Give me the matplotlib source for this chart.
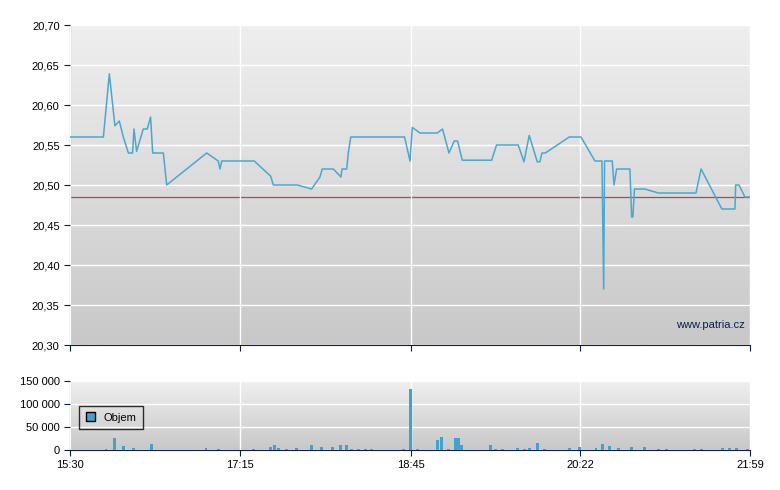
import numpy as np
import matplotlib
matplotlib.use("Agg")
import matplotlib.pyplot as plt
from matplotlib.patches import Rectangle

plt.rcParams['font.family'] = ['Liberation Sans', 'DejaVu Sans']

# time in minutes from 15:30 (axis positions), price
t = [0, 19.1, 22.5, 25.7, 28.2, 30.5, 33.4, 35.8, 36.6, 38.1, 41.9, 44.2, 46.1, 47.3, 53.4, 55.3,
     78.2, 84.8, 85.8, 86.8, 105.4, 114.8, 116.3, 130.1, 138.2, 143, 144.3, 150.6, 155, 155.6,
     158.3, 159.2, 160.6, 191.4, 194.5, 195.8, 200.2, 210.1, 213.1, 216.8, 219.8, 221.7, 224.4,
     241.2, 244, 256.4, 259.7, 262.7, 267.3, 268.8, 270, 271.9, 285.6, 292.3, 300.3, 304.3,
     305.3, 305.8, 310.2, 311.2, 312.7, 320.3, 321.3, 322, 322.9, 328.9, 336.5, 358.1, 361,
     372.9, 380.4, 380.8, 382.7, 386.1, 389]
price = [20.560, 20.560, 20.639, 20.574, 20.580, 20.560, 20.540, 20.540, 20.570, 20.542, 20.570,
         20.570, 20.585, 20.540, 20.540, 20.500, 20.540, 20.530, 20.520, 20.530, 20.530, 20.511,
         20.500, 20.500, 20.495, 20.510, 20.520, 20.520, 20.510, 20.520, 20.520, 20.540, 20.560,
         20.560, 20.530, 20.572, 20.565, 20.565, 20.570, 20.540, 20.555, 20.555, 20.531, 20.531,
         20.550, 20.550, 20.529, 20.562, 20.529, 20.529, 20.540, 20.540, 20.560, 20.560, 20.530,
         20.530, 20.370, 20.530, 20.530, 20.500, 20.520, 20.520, 20.460, 20.460, 20.495, 20.495,
         20.490, 20.490, 20.520, 20.470, 20.470, 20.500, 20.500, 20.485, 20.485]
ref_price = 20.485

vt = [20.6, 25.7, 30.8, 36.4, 46.7, 77.8, 85, 104.7, 114.9, 117, 119, 123.8, 129.7, 137.9, 144,
      150.1, 154.5, 158.3, 160.9, 165, 168.8, 172.4, 191, 194.6, 198.7, 210.2, 212.7, 216.6,
      220.4, 222.2, 224.2, 240.8, 243.4, 247.2, 256.2, 260, 262.6, 267.7, 271.5, 285.6, 291.4,
      300.9, 304.7, 308.5, 313.7, 321.3, 328.5, 336.7, 341.3, 357.1, 361, 373.2, 377.5, 381.4, 387.7]
vol = [2000, 26000, 9000, 4500, 13000, 4500, 2000, 2000, 6500, 11000, 4500, 2000, 4500, 11000,
       6500, 6500, 11000, 11000, 2000, 2000, 2000, 2000, 2000, 132000, 2000, 22000, 29000, 2000,
       27000, 27000, 11000, 11000, 2000, 2000, 4500, 2000, 4500, 15500, 2000, 4500, 6500, 4500,
       13000, 9000, 4500, 6500, 6500, 2000, 2000, 2000, 2000, 4500, 4500, 4500, 2000]

xticks = [0, 97, 195, 292, 389]
xlabels = ['15:30', '17:15', '18:45', '20:22', '21:59']

W, H = 780, 490
fig = plt.figure(figsize=(7.8, 4.9), dpi=100)
navy = '#0a1e50'
grad = np.linspace(0, 1, 256).reshape(-1, 1)
from matplotlib.colors import LinearSegmentedColormap
cmap = LinearSegmentedColormap.from_list('g', ['#c8c8c8', '#efefef'])

def setup(ax, ylim):
    ax.imshow(grad, aspect='auto', cmap=cmap, origin='lower',
              extent=[0, 389, ylim[0], ylim[1]], zorder=0)
    ax.set_xlim(0, 389)
    ax.set_ylim(*ylim)
    for s in ['top', 'right']:
        ax.spines[s].set_visible(False)
    for s in ['left', 'bottom']:
        ax.spines[s].set_color(navy)
    ax.tick_params(colors='black', labelsize=8, length=4, color=navy)
    ax.set_xticks(xticks)
    ax.grid(True, color='white', linewidth=1, zorder=1)
    ax.set_axisbelow(False)

ax1 = fig.add_axes([70/W, 1-345/H, 680/W, 320/H])
setup(ax1, (20.30, 20.70))
ax1.set_yticks(np.arange(20.30, 20.701, 0.05))
ax1.set_yticklabels([f"{v:.2f}".replace('.', ',') for v in np.arange(20.30, 20.701, 0.05)])
ax1.set_xticklabels([])
ax1.axhline(ref_price, color='#b04848', linewidth=0.9, zorder=2)
ax1.plot(t, price, color='#4aa8d0', linewidth=1.1, zorder=3)
ax1.text(386, 20.325, 'www.patria.cz', color=navy, fontsize=8, ha='right', va='center', zorder=4)

ax2 = fig.add_axes([70/W, 1-450/H, 680/W, 69/H])
setup(ax2, (0, 150000))
ax2.set_yticks([0, 50000, 100000, 150000])
ax2.set_yticklabels(['0', '50 000', '100 000', '150 000'])
ax2.set_xticklabels(xlabels)
ax2.bar(vt, vol, width=1.7, color='#3fa3cf', zorder=3)
leg = ax2.legend([Rectangle((0, 0), 1, 1, facecolor='#3fa3cf', edgecolor='black')], ['Objem'],
                 loc='lower left', bbox_to_anchor=(0.005, 0.22), fontsize=8, frameon=True,
                 fancybox=False, handlelength=0.8, handleheight=0.8, borderpad=0.6)
leg.get_frame().set_edgecolor('black')
leg.get_frame().set_facecolor('none')
leg.set_zorder(5)

fig.savefig('out.png', dpi=100)
